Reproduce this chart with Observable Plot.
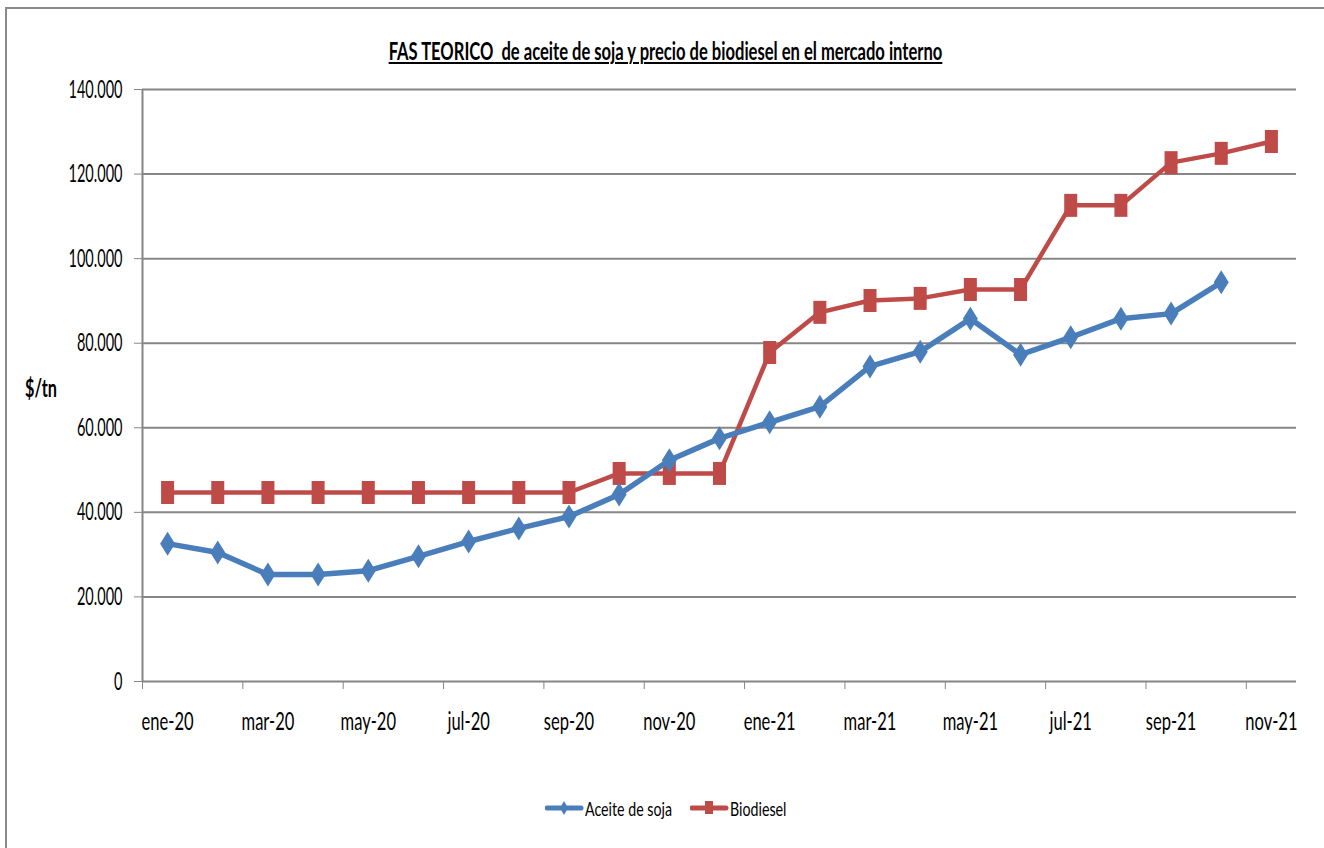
<!DOCTYPE html>
<html>
<head>
<meta charset="utf-8">
<script src="https://cdn.jsdelivr.net/npm/d3@7"></script>
<script src="https://cdn.jsdelivr.net/npm/@observablehq/plot@0.6"></script>
<style>
  html, body { margin: 0; padding: 0; background: #fff; }
  #frame { position: relative; width: 1324px; height: 848px; overflow: hidden; font-family: Lato, "Open Sans", sans-serif; color: #000; }
  #border { position: absolute; left: 5px; top: 7px; width: 1400px; height: 900px;
    border-left: 2px solid #8a8a8a; border-top: 2px solid #8a8a8a; }
  .sx { position: absolute; white-space: pre; line-height: 1; }
  #title { font-weight: bold; font-size: 24px; text-decoration: underline; text-decoration-thickness: 1.5px; text-underline-offset: 2px; }
  #ylab { font-weight: bold; font-size: 24px; }
  .leg { font-size: 20px; }
  #chart { position: absolute; left: 0; top: 0; }
  .legsw { position: absolute; }
</style>
</head>
<body>
<div id="frame">
  <div id="border"></div>
  <div id="chart"></div>
</div>
<script>
// ---- data ----
const title = "FAS TEORICO  de aceite de soja y precio de biodiesel en el mercado interno";
const yLabel = "$/tn";
const months = ["ene-20","feb-20","mar-20","abr-20","may-20","jun-20","jul-20","ago-20","sep-20","oct-20","nov-20","dic-20",
                "ene-21","feb-21","mar-21","abr-21","may-21","jun-21","jul-21","ago-21","sep-21","oct-21","nov-21"];
const aceite = [32600, 30500, 25300, 25300, 26200, 29600, 33100, 36200, 39000, 44200, 52300, 57500,
                61300, 65000, 74500, 78000, 85800, 77300, 81400, 85800, 87000, 94400];
const biodiesel = [44700, 44700, 44700, 44700, 44700, 44700, 44700, 44700, 44700, 49200, 49200, 49200,
                   77800, 87300, 90100, 90600, 92700, 92700, 112600, 112600, 122700, 124900, 127700];
const yTicks = [0, 20000, 40000, 60000, 80000, 100000, 120000, 140000];
const seriesNames = ["Aceite de soja", "Biodiesel"];
const colors = ["#4a7ebb", "#be4b48"];

const aceiteData = aceite.map((v, i) => ({i, v}));
const bioData = biodiesel.map((v, i) => ({i, v}));
const labelIdx = months.map((m, i) => i).filter(i => i % 2 === 0);
const boundaries = months.map((m, i) => i - 0.5).filter((b, i) => i % 2 === 0);

// ---- horizontally condensed text (the reference font is tall & narrow) ----
const ctx = document.createElement("canvas").getContext("2d");
function measure(text, font) { ctx.font = font; return ctx.measureText(text).width; }
const sTick = 54 / measure("140.000", "25px Lato");
const sXTick = 52 / measure("ene-20", "25px Lato");
const sTitle = 555 / measure(title, "bold 24px Lato");
const sYlab = 32 / measure(yLabel, "bold 24px Lato");
const sLeg = 87 / measure(seriesNames[0], "20px Lato");

const frame = document.getElementById("frame");
function addText(id, cls, text, left, top, s, origin) {
  const el = document.createElement("div");
  if (id) el.id = id;
  el.className = "sx " + (cls || "");
  el.textContent = text;
  el.style.left = left + "px";
  el.style.top = top + "px";
  el.style.transform = `scaleX(${s})`;
  el.style.transformOrigin = origin;
  frame.appendChild(el);
  return el;
}

// ---- chart ----
const diamond = { draw(c) { c.moveTo(0, -12); c.lineTo(7.5, 0); c.lineTo(0, 12); c.lineTo(-7.5, 0); c.closePath(); } };
const tallSquare = { draw(c) { c.rect(-6.5, -11.5, 13, 23); } };
const fmt = d => d === 0 ? "0" : d3.format(",")(d).replace(/,/g, ".");

const chart = Plot.plot({
  width: 1324, height: 760,
  marginLeft: 142, marginRight: 28, marginTop: 89, marginBottom: 79,
  style: { fontFamily: "Lato, 'Open Sans', sans-serif", fontSize: "25px", background: "transparent", color: "#000", overflow: "visible" },
  x: { type: "linear", domain: [-0.5, months.length - 0.5] },
  y: { domain: [0, 140000] },
  marks: [
    Plot.gridY(yTicks.slice(1), { stroke: "#868686", strokeOpacity: 1, strokeWidth: 2 }),
    Plot.ruleY([0], { stroke: "#868686", strokeWidth: 2 }),
    Plot.ruleX([-0.5], { stroke: "#868686", strokeWidth: 2 }),
    Plot.axisY({ ticks: yTicks, tickSize: 8, tickPadding: 12, tickFormat: fmt, stroke: "#868686", fill: "#000", label: null }),
    Plot.axisX({ ticks: boundaries, tickSize: 8, tickFormat: () => "", stroke: "#868686", label: null }),
    Plot.axisX({ ticks: labelIdx, tickSize: 0, tickPadding: 31, tickFormat: i => months[i], fill: "#000", label: null }),
    Plot.line(bioData, { x: "i", y: "v", stroke: colors[1], strokeWidth: 4.5 }),
    Plot.dot(bioData, { x: "i", y: "v", symbol: tallSquare, fill: colors[1], r: 5 }),
    Plot.line(aceiteData, { x: "i", y: "v", stroke: colors[0], strokeWidth: 5.5 }),
    Plot.dot(aceiteData, { x: "i", y: "v", symbol: diamond, fill: colors[0], r: 5 })
  ]
});
chart.querySelectorAll("text").forEach(t => {
  const tr = t.getAttribute("transform") || "";
  const isX = months.includes(t.textContent);
  t.setAttribute("transform", `${tr} scale(${isX ? sXTick : sTick},1)`);
});
document.getElementById("chart").appendChild(chart);

// ---- title, axis label ----
const tEl = addText("title", "", title, 0, 39, sTitle, "center top");
tEl.style.width = "1331px"; tEl.style.textAlign = "center";
addText("ylab", "", yLabel, 25, 376, sYlab, "left top");

// ---- legend ----
const legX = [545, 690];
seriesNames.forEach((name, k) => {
  const sw = document.createElementNS("http://www.w3.org/2000/svg", "svg");
  sw.setAttribute("class", "legsw");
  sw.setAttribute("width", 40); sw.setAttribute("height", 24);
  sw.style.left = legX[k] + "px"; sw.style.top = "796px";
  const marker = k === 0
    ? `<path d="M19,5 L23,12 L19,19 L15,12 Z" fill="${colors[0]}"/>`
    : `<rect x="15" y="5" width="8" height="13" fill="${colors[1]}"/>`;
  sw.innerHTML = `<line x1="2" x2="36" y1="12" y2="12" stroke="${colors[k]}" stroke-width="5" stroke-linecap="round"/>${marker}`;
  frame.appendChild(sw);
  addText(null, "leg", name, legX[k] + 40, 798, sLeg, "left top");
});
</script>
</body>
</html>
